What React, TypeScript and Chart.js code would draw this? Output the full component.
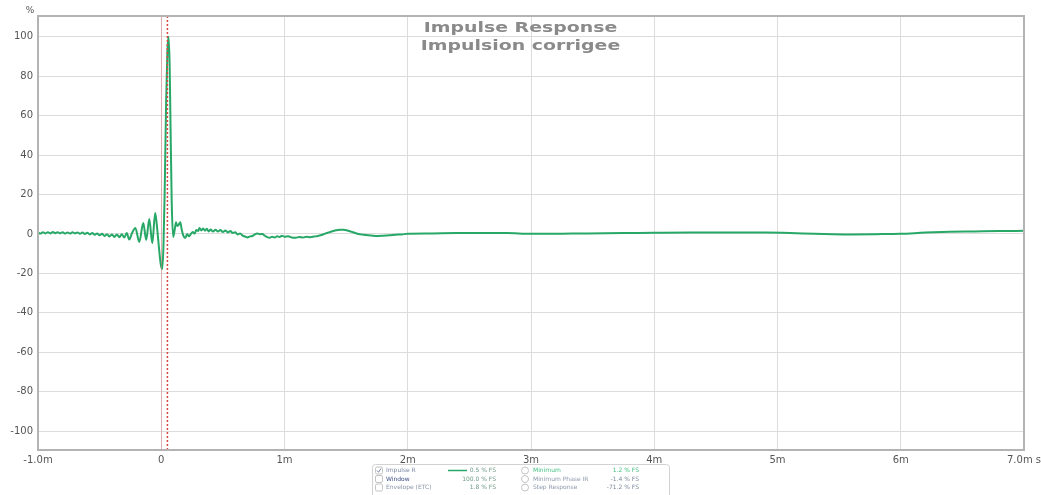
import React, { useEffect, useRef } from "react";
import { Chart, registerables } from "chart.js";

Chart.register(...registerables);

// ---------- data ----------
const timeMs: number[] = [
  -1.0, -0.98, -0.96, -0.94, -0.92, -0.9, -0.88, -0.86, -0.84, -0.82, -0.8, -0.78, -0.76, -0.74, -0.72, -0.7,
  -0.68, -0.66, -0.64, -0.62, -0.6, -0.58, -0.56, -0.54, -0.52, -0.5, -0.48, -0.46, -0.44, -0.42, -0.4, -0.38,
  -0.36, -0.34, -0.32, -0.3,
  -0.28, -0.26, -0.235, -0.21, -0.178, -0.146, -0.122, -0.097, -0.073, -0.049, -0.035, -0.02, -0.005, 0.008,
  0.018, 0.028, 0.04, 0.05, 0.059, 0.068, 0.076, 0.085, 0.097, 0.11, 0.12, 0.13, 0.14, 0.155, 0.165, 0.18,
  0.195, 0.21, 0.225, 0.24, 0.255, 0.27, 0.285, 0.3, 0.31, 0.325, 0.34, 0.355, 0.37, 0.385, 0.4, 0.42, 0.44,
  0.46, 0.48, 0.5, 0.52, 0.54, 0.56, 0.58, 0.6, 0.62, 0.64, 0.66, 0.68, 0.7, 0.72, 0.74, 0.76, 0.78, 0.8, 0.82,
  0.84, 0.86, 0.88, 0.9, 0.92, 0.94, 0.96, 0.98, 1.0, 1.03, 1.06, 1.09, 1.12, 1.15, 1.18, 1.21, 1.24, 1.27,
  1.3, 1.33, 1.36, 1.39, 1.42, 1.45, 1.48, 1.51, 1.54, 1.57, 1.6, 1.64, 1.68, 1.72, 1.76, 1.8, 1.85, 1.9, 1.95,
  2.0, 2.2, 2.4, 2.6, 2.8, 3.0, 3.2, 3.4, 3.6, 3.8, 4.0, 4.3, 4.6, 4.9, 5.1, 5.3, 5.45, 5.6, 5.8, 6.0, 6.2,
  6.4, 6.6, 6.8, 7.0,
];

const impulsePct: number[] = [
  0.8, 0.2, 0.9, 0.3, 0.9, 0.3, 1.0, 0.4, 0.9, 0.3, 0.9, 0.2, 0.8, 0.2, 0.9, 0.3,
  0.8, 0.1, 0.7, 0.0, 0.6, -0.2, 0.5, -0.4, 0.3, -0.7, 0.1, -1.0, -0.1, -1.3, -0.2, -1.5,
  -0.2, -1.7, -0.1, -1.8,
  0.5, -2.8, 0.8, 3.0, -4.0, 5.6, -3.0, 7.6, -4.6, 10.6, 4.0, -6.0, -15.0, -17.8,
  -6.0, 22.0, 68.0, 93.0, 100.0, 86.0, 52.0, 16.0, -1.5, 2.5, 6.0, 4.0, 4.5, 6.0, 2.5, -1.0,
  -2.0, 0.0, -1.2, 0.0, 1.0, 0.2, 2.0, 1.5, 3.0, 1.8, 2.8, 1.6, 2.6, 1.3, 2.3, 1.2, 2.2,
  1.2, 2.0, 1.0, 1.8, 0.8, 1.5, 0.5, 0.9, -0.2, 0.3, -0.8, -1.3, -1.8, -1.2, -1.0, -0.2, 0.2, -0.1, 0.0,
  -0.9, -1.6, -1.9, -1.4, -1.8, -1.2, -1.5, -0.9, -1.4, -1.1, -1.8, -1.9, -1.5, -1.8, -1.4, -1.6, -1.3, -1.0,
  -0.5, 0.2, 0.8, 1.4, 1.9, 2.1, 2.1, 1.8, 1.2, 0.6, 0.0, -0.4, -0.7, -0.9, -1.0, -0.9, -0.7, -0.4, -0.2,
  0.1, 0.3, 0.5, 0.5, 0.5, 0.1, 0.1, 0.25, 0.4, 0.5, 0.6, 0.7, 0.7, 0.7, 0.5, 0.1, -0.1, -0.2, -0.1, 0.1, 0.7,
  1.1, 1.3, 1.5, 1.6,
];

const xTickValues: number[] = [-1, 0, 1, 2, 3, 4, 5, 6, 7];
const xTickLabels: string[] = ["-1.0m", "0", "1m", "2m", "3m", "4m", "5m", "6m", "7.0m s"];
const yTickValues: number[] = [-100, -80, -60, -40, -20, 0, 20, 40, 60, 80, 100];
const yAxisMin = -109.5;
const yAxisMax = 110.5;
const xAxisMin = -1;
const xAxisMax = 7;
const yUnitLabel = "%";
const titleLines: string[] = ["Impulse Response", "Impulsion corrigee"];
const zeroMarkerTime = 0;
const cursorTime = 0.05;

const legendLeftLabels: string[] = ["Impulse R", "Window", "Envelope (ETC)"];
const legendLeftValues: string[] = ["0.5 % FS", "100.0 % FS", "1.8 % FS"];
const legendRightLabels: string[] = ["Minimum", "Minimum Phase IR", "Step Response"];
const legendRightValues: string[] = ["1.2 % FS", "-1.4 % FS", "-71.2 % FS"];

const LINE_COLOR = "#27a867";

const overlayPlugin = {
  id: "overlay",
  afterDatasetsDraw(chart: any) {
    const { ctx, chartArea, scales } = chart;
    const x = scales.x;
    ctx.save();
    const zx = Math.round(x.getPixelForValue(zeroMarkerTime)) + 0.5;
    ctx.strokeStyle = "rgba(225,120,120,0.45)";
    ctx.lineWidth = 1;
    ctx.beginPath();
    ctx.moveTo(zx, chartArea.top);
    ctx.lineTo(zx, chartArea.bottom);
    ctx.stroke();
    const cx = x.getPixelForValue(cursorTime);
    ctx.strokeStyle = "#d9473f";
    ctx.lineWidth = 1.5;
    ctx.setLineDash([2, 2]);
    ctx.beginPath();
    ctx.moveTo(cx, chartArea.top);
    ctx.lineTo(cx, chartArea.bottom);
    ctx.stroke();
    ctx.setLineDash([]);
    ctx.strokeStyle = "#b3b3b3";
    ctx.lineWidth = 2;
    ctx.strokeRect(chartArea.left, chartArea.top, chartArea.right - chartArea.left, chartArea.bottom - chartArea.top);
    ctx.restore();
  },
  afterDraw(chart: any) {
    const { ctx, chartArea, width } = chart;
    ctx.save();
    ctx.fillStyle = "#555";
    ctx.font = "9px 'DejaVu Sans'";
    ctx.textAlign = "center";
    ctx.textBaseline = "alphabetic";
    ctx.fillText(yUnitLabel, chartArea.left - 8, chartArea.top - 3);
    ctx.fillStyle = "#8a8a8a";
    ctx.font = "bold 14px 'DejaVu Sans'";
    titleLines.forEach((t, i) => {
      ctx.save();
      ctx.translate(width / 2, 31.5 + i * 18);
      ctx.scale(1.35, 1);
      ctx.fillText(t, 0, 0);
      ctx.restore();
    });
    const lx = 372.5, ly = 464.5, lw = 297, lh = 40;
    ctx.fillStyle = "#fff";
    ctx.strokeStyle = "#d2d2d2";
    ctx.lineWidth = 1;
    ctx.beginPath();
    (ctx as any).roundRect(lx, ly, lw, lh, 3);
    ctx.fill();
    ctx.stroke();
    const rows = [470.5, 479, 487.5];
    ctx.font = "6px 'DejaVu Sans'";
    ctx.textBaseline = "middle";
    const leftColors = ["#7b88a6", "#3d4c86", "#8a96aa"];
    rows.forEach((ry, i) => {
      ctx.strokeStyle = "#c4c4c4";
      ctx.lineWidth = 1;
      ctx.fillStyle = "#fff";
      ctx.beginPath();
      (ctx as any).roundRect(375.5, ry - 3.5, 7, 7, 1.5);
      ctx.fill();
      ctx.stroke();
      if (i === 0) {
        ctx.strokeStyle = "#7b88a6";
        ctx.beginPath();
        ctx.moveTo(377, ry);
        ctx.lineTo(378.5, ry + 1.8);
        ctx.lineTo(381, ry - 2);
        ctx.stroke();
      }
      ctx.textAlign = "left";
      ctx.fillStyle = leftColors[i];
      ctx.fillText(legendLeftLabels[i], 386, ry);
      ctx.textAlign = "right";
      ctx.fillStyle = "#6f9a86";
      ctx.fillText(legendLeftValues[i], 496, ry);
      ctx.strokeStyle = "#c4c4c4";
      ctx.beginPath();
      ctx.arc(525, ry, 3.5, 0, Math.PI * 2);
      ctx.stroke();
      ctx.textAlign = "left";
      ctx.fillStyle = i === 0 ? "#43bf80" : "#8d97ab";
      ctx.fillText(legendRightLabels[i], 533, ry);
      ctx.textAlign = "right";
      ctx.fillStyle = i === 0 ? "#43bf80" : "#7d8a9a";
      ctx.fillText(legendRightValues[i], 639, ry);
    });
    ctx.strokeStyle = LINE_COLOR;
    ctx.lineWidth = 1.5;
    ctx.beginPath();
    ctx.moveTo(448, rows[0]);
    ctx.lineTo(467, rows[0]);
    ctx.stroke();
    ctx.restore();
  },
};

export default function App() {
  const canvasRef = useRef<HTMLCanvasElement | null>(null);

  useEffect(() => {
    if (!canvasRef.current) return;
    const points = timeMs.map((t, i) => ({ x: t, y: impulsePct[i] }));
    const chart = new Chart(canvasRef.current, {
      type: "line",
      data: {
        datasets: [
          {
            label: titleLines[0],
            data: points,
            borderColor: LINE_COLOR,
            borderWidth: 2,
            pointRadius: 0,
            cubicInterpolationMode: "monotone",
            fill: false,
            borderJoinStyle: "round",
          },
        ],
      },
      options: {
        responsive: false,
        animation: false,
        parsing: false as any,
        layout: { padding: { top: 16, right: 17, left: 0, bottom: 0 } },
        plugins: {
          legend: { display: false },
          title: { display: false },
          tooltip: { enabled: false },
        },
        scales: {
          x: {
            type: "linear",
            min: xAxisMin,
            max: xAxisMax,
            afterBuildTicks: (scale: any) => {
              scale.ticks = xTickValues.map((v) => ({ value: v }));
            },
            afterFit: (scale: any) => {
              scale.height = 45;
              scale.paddingLeft = 0;
              scale.paddingRight = 0;
            },
            grid: { color: "#dcdcdc", lineWidth: 1, drawTicks: false },
            border: { display: false },
            ticks: {
              autoSkip: false,
              maxRotation: 0,
              padding: 4,
              color: "#555",
              font: { family: "'DejaVu Sans'", size: 10 },
              callback: (value: any) => {
                const i = xTickValues.indexOf(Number(value));
                return i >= 0 ? xTickLabels[i] : "";
              },
            },
          },
          y: {
            type: "linear",
            min: yAxisMin,
            max: yAxisMax,
            afterBuildTicks: (scale: any) => {
              scale.ticks = yTickValues.map((v) => ({ value: v }));
            },
            afterFit: (scale: any) => {
              scale.width = 38;
              scale.paddingTop = 0;
              scale.paddingBottom = 0;
            },
            grid: { color: "#dcdcdc", lineWidth: 1, drawTicks: false },
            border: { display: false },
            ticks: {
              padding: 5,
              color: "#555",
              font: { family: "'DejaVu Sans'", size: 10 },
              callback: (value: any) => String(value),
            },
          },
        },
      },
      plugins: [overlayPlugin],
    });
    return () => chart.destroy();
  }, []);

  return (
    <div style={{ position: "fixed", left: 0, top: 0, width: 1041, height: 495, background: "#fff" }}>
      <canvas ref={canvasRef} width={1041} height={495} style={{ display: "block" }} />
    </div>
  );
}
